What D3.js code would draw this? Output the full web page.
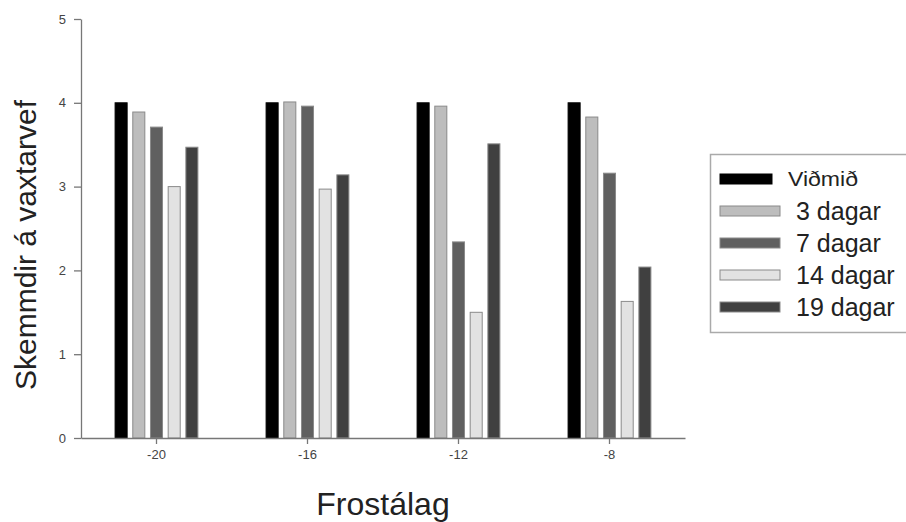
<!DOCTYPE html>
<html lang="is">
<head>
<meta charset="UTF-8">
<title>Skemmdir á vaxtarvef</title>
<script src="https://d3js.org/d3.v7.min.js"></script>
<style>
    body { margin: 0; background: #fff; }
    svg { display: block; font-family: "Liberation Sans", Arial, sans-serif; }
    .axis path, .axis line { stroke: #777; stroke-width: 1.3px; }
    .axis text { font-size: 13px; fill: #444; }
    .axis-title { fill: #222; }
    .legend-text { font-size: 25px; fill: #222; }
</style>
</head>
<body>
<div id="chart"></div>
<script>
    // --- data ---
    const categories = ["-20", "-16", "-12", "-8"];
    const seriesNames = ["Viðmið", "3 dagar", "7 dagar", "14 dagar", "19 dagar"];
    const seriesColors = ["#000000", "#bdbdbd", "#606060", "#e2e2e2", "#404040"];
    const viðmið   = [4.00, 4.00, 4.00, 4.00];
    const dagar3   = [3.89, 4.01, 3.96, 3.83];
    const dagar7   = [3.71, 3.96, 2.34, 3.16];
    const dagar14  = [3.00, 2.97, 1.50, 1.63];
    const dagar19  = [3.47, 3.14, 3.51, 2.04];
    const seriesValues = [viðmið, dagar3, dagar7, dagar14, dagar19];
    const yTicks = [0, 1, 2, 3, 4, 5];

    // --- chart setup ---
    const W = 906, H = 522;
    const svg = d3.select("#chart").append("svg").attr("width", W).attr("height", H);

    const x = d3.scaleBand().domain(categories).range([81, 685]).padding(0);
    const xInner = d3.scaleBand().domain(seriesNames).range([-41.4, 41.4]).paddingInner(0.32).paddingOuter(0);
    const y = d3.scaleLinear().domain([0, 5]).range([438, 19]);

    // bars
    const rows = [];
    seriesNames.forEach((s, si) => {
        categories.forEach((c, ci) => rows.push({ s, si, c, v: seriesValues[si][ci] }));
    });
    svg.append("g").selectAll("rect").data(rows).join("rect")
        .attr("x", d => x(d.c) + x.bandwidth() / 2 + xInner(d.s))
        .attr("width", xInner.bandwidth())
        .attr("y", d => y(d.v))
        .attr("height", d => y(0) - y(d.v))
        .attr("fill", d => seriesColors[d.si])
        .attr("stroke", d => d.si === 0 ? "#000" : "#8a8a8a")
        .attr("stroke-width", 1);

    // axes
    svg.append("g").attr("class", "axis")
        .attr("transform", `translate(0,${y(0)})`)
        .call(d3.axisBottom(x).tickSize(6).tickPadding(6).tickSizeOuter(0));
    svg.append("g").attr("class", "axis")
        .attr("transform", `translate(81,0)`)
        .call(d3.axisLeft(y).tickValues(yTicks).tickFormat(d3.format("d")).tickSize(7).tickPadding(8).tickSizeOuter(0));

    // axis titles
    svg.append("text").attr("class", "axis-title")
        .attr("x", 383).attr("y", 515).attr("text-anchor", "middle")
        .style("font-size", "32px").text("Frostálag");
    svg.append("text").attr("class", "axis-title")
        .attr("transform", "translate(36,245) rotate(-90)").attr("text-anchor", "middle")
        .style("font-size", "30px").text("Skemmdir á vaxtarvef");

    // legend
    const legend = svg.append("g");
    legend.append("rect").attr("x", 710.5).attr("y", 154.5).attr("width", 220).attr("height", 178)
        .attr("fill", "#fff").attr("stroke", "#aaa").attr("stroke-width", 1.5);
    const item = legend.selectAll("g.item").data(seriesNames).join("g").attr("class", "item")
        .attr("transform", (d, i) => `translate(720,${179 + i * 32})`);
    item.append("rect").attr("x", 0).attr("y", -5)
        .attr("width", (d, i) => i === 0 ? 52 : 60).attr("height", 10)
        .attr("fill", (d, i) => seriesColors[i])
        .attr("stroke", (d, i) => i === 0 ? "#000" : "#8a8a8a");
    item.append("text").attr("class", "legend-text")
        .attr("x", (d, i) => i === 0 ? 68 : 76).attr("dy", "0.35em")
        .style("font-size", (d, i) => i === 0 ? "20px" : "25px")
        .text(d => d);
    // the first label is drawn wider than its font size in the original
    item.filter((d, i) => i === 0).select("text")
        .attr("textLength", 70).attr("lengthAdjust", "spacingAndGlyphs");
</script>
</body>
</html>
